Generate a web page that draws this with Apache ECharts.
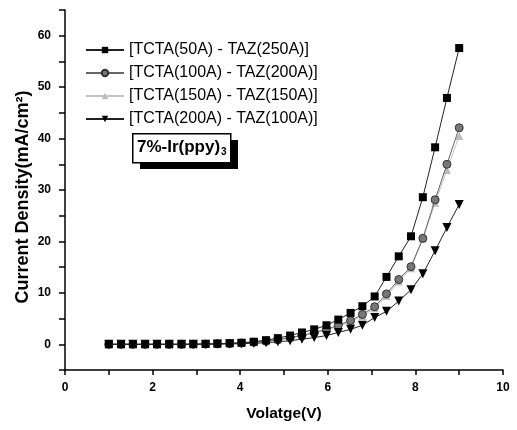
<!DOCTYPE html>
<html>
<head>
<meta charset="utf-8">
<script src="https://cdn.jsdelivr.net/npm/echarts@6/dist/echarts.min.js"></script>
<style>html,body{margin:0;padding:0;background:#fff}#c{width:517px;height:430px}</style>
</head>
<body>
<div id="c"></div>
<script>
var voltage = [1.0,1.28,1.55,1.83,2.1,2.38,2.66,2.93,3.21,3.48,3.76,4.03,4.31,4.59,4.86,5.14,5.41,5.69,5.97,6.24,6.52,6.79,7.07,7.34,7.62,7.9,8.17,8.45,8.72,9.0];
var s50_250  = [0,0,0,0,0,0,0,0.02,0.05,0.1,0.2,0.3,0.5,0.8,1.2,1.7,2.3,2.9,3.7,4.8,6.1,7.4,9.3,13.1,17.1,21.0,28.6,38.3,47.9,57.6];
var s100_200 = [0,0,0,0,0,0,0,0.02,0.04,0.08,0.15,0.25,0.4,0.6,0.9,1.3,1.7,2.3,2.9,3.7,4.6,5.8,7.3,9.8,12.6,15.1,20.6,28.1,35.0,42.1];
var s150_150 = [0,0,0,0,0,0,0,0.02,0.04,0.08,0.14,0.24,0.38,0.58,0.85,1.2,1.6,2.2,2.8,3.5,4.4,5.5,7.0,9.4,12.2,14.8,20.5,27.5,33.9,40.5];
var s200_100 = [0,0,0,0,0,0,0,0,0.02,0.04,0.07,0.12,0.2,0.3,0.5,0.7,1.0,1.3,1.7,2.3,2.9,3.7,5.2,6.4,8.4,10.6,13.7,18.2,22.7,27.2];
var seriesNames = ['[TCTA(50A) - TAZ(250A)]','[TCTA(100A) - TAZ(200A)]','[TCTA(150A) - TAZ(150A)]','[TCTA(200A) - TAZ(100A)]'];
var xTickLabels = ['0','2','4','6','8','10'];
var yTickLabels = ['0','10','20','30','40','50','60'];
var boxLabel = '7%-Ir(ppy)';
var boxSub = '3';

function pairs(ys){ return voltage.map(function(v,i){ return [v, ys[i]]; }); }
var FONT = 'Liberation Sans, Arial, sans-serif';

var chart = echarts.init(document.getElementById('c'));
chart.setOption({
  animation: false,
  backgroundColor: '#fff',
  grid: { left: 65, right: 14, top: 10, bottom: 60 },
  graphic: [
    { type: 'rect', left: 140, top: 140, z: 10, shape: { width: 98, height: 29 }, style: { fill: '#000' } },
    { type: 'rect', left: 132, top: 133, z: 11, shape: { width: 98, height: 29 }, style: { fill: '#fff', stroke: '#000', lineWidth: 1.5 } },
    { type: 'text', left: 137, top: 139, z: 12,
      style: { text: boxLabel + '{sub|' + boxSub + '}', fill: '#000', font: 'bold 17px ' + FONT,
        rich: { sub: { fontSize: 10, fontWeight: 'bold', fontFamily: FONT, fill: '#000', padding: [9, 0, 0, 1] } } } }
  ],
  legend: {
    orient: 'vertical', left: 80, top: 37,
    itemWidth: 38, itemHeight: 8, itemGap: 7,
    textStyle: { fontFamily: FONT, fontSize: 16, color: '#000' },
    data: seriesNames
  },
  xAxis: {
    type: 'value', min: 0, max: 10, interval: 1,
    name: 'Volatge(V)', nameLocation: 'middle', nameGap: 36,
    nameTextStyle: { fontFamily: FONT, fontSize: 15.5, fontWeight: 'bold', color: '#000' },
    axisLine: { onZero: false, lineStyle: { color: '#000', width: 1.5 } },
    axisTick: { inside: false, length: 5, lineStyle: { color: '#000', width: 1.5 } },
    axisLabel: { fontFamily: FONT, fontSize: 12, fontWeight: 'bold', color: '#000', margin: 12,
      formatter: function(v){ var i = xTickLabels.indexOf(String(v)); return i >= 0 ? xTickLabels[i] : ''; } },
    splitLine: { show: false }
  },
  yAxis: {
    type: 'value', min: -5, max: 65, interval: 5,
    name: 'Current Density(mA/cm\u00B2)', nameLocation: 'middle', nameGap: 33, nameMoveOverlap: false,
    nameTextStyle: { fontFamily: FONT, fontSize: 18, fontWeight: 'bold', color: '#000', padding: [0, 14, 0, 0] },
    axisLine: { show: true, onZero: false, lineStyle: { color: '#000', width: 1.5 } },
    axisTick: { show: true, inside: false, length: 6, lineStyle: { color: '#000', width: 1.5 } },
    axisLabel: { fontFamily: FONT, fontSize: 12, fontWeight: 'bold', color: '#000', margin: 14,
      formatter: function(v){ var i = yTickLabels.indexOf(String(v)); return i >= 0 ? yTickLabels[i] : ''; } },
    splitLine: { show: false }
  },
  series: [
    { name: seriesNames[0], type: 'line', data: pairs(s50_250), symbol: 'rect', symbolSize: 8,
      itemStyle: { color: '#000' }, lineStyle: { color: '#222', width: 1 }, z: 5 },
    { name: seriesNames[1], type: 'line', data: pairs(s100_200), symbol: 'circle', symbolSize: 8,
      itemStyle: { color: '#777', borderColor: '#333', borderWidth: 1 }, lineStyle: { color: '#666', width: 1 }, z: 4 },
    { name: seriesNames[2], type: 'line', data: pairs(s150_150), symbol: 'triangle', symbolSize: 8,
      itemStyle: { color: '#bbb' }, lineStyle: { color: '#c4c4c4', width: 1 }, z: 3 },
    { name: seriesNames[3], type: 'line', data: pairs(s200_100), symbol: 'triangle', symbolRotate: 180, symbolSize: 9,
      itemStyle: { color: '#000' }, lineStyle: { color: '#222', width: 1 }, z: 6 }
  ]
});
</script>
</body>
</html>
